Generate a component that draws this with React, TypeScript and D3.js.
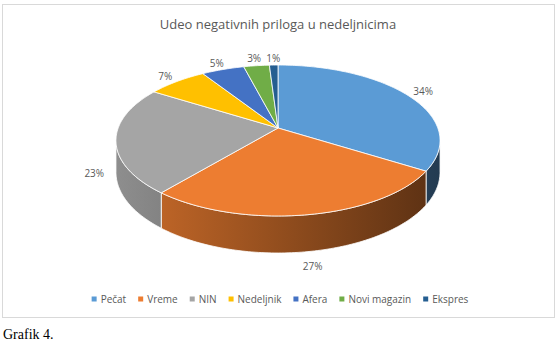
import React, { useEffect, useRef } from "react";
import * as d3 from "d3";

const categories = ["Pečat", "Vreme", "NIN", "Nedeljnik", "Afera", "Novi magazin", "Ekspres"];
const values = [34, 27, 23, 7, 5, 3, 1];
const colors = ["#5B9BD5", "#ED7D31", "#A5A5A5", "#FFC000", "#4472C4", "#70AD47", "#255E91"];
const labels = ["34%", "27%", "23%", "7%", "5%", "3%", "1%"];
const titleText = "Udeo negativnih priloga u nedeljnicima";
const captionText = "Grafik 4.";

const WIDTH = 560;
const HEIGHT = 343;

export default function App() {
  const ref = useRef<SVGSVGElement | null>(null);

  useEffect(() => {
    const svg = d3.select(ref.current);
    svg.selectAll("*").remove();

    const font = "'Open Sans', 'Noto Sans', sans-serif";
    const textColor = "#595959";

    // frame
    svg.append("rect").attr("width", WIDTH).attr("height", HEIGHT).attr("fill", "#fff");
    svg.append("rect")
      .attr("x", 2.5).attr("y", 4.5).attr("width", 552).attr("height", 313)
      .attr("fill", "#fff").attr("stroke", "#D9D9D9").attr("stroke-width", 1);

    // title
    svg.append("text")
      .attr("x", 278).attr("y", 24).attr("dy", "0.35em")
      .attr("text-anchor", "middle")
      .attr("font-family", font).attr("font-size", 13)
      .attr("fill", textColor)
      .text(titleText);

    // 3D pie geometry (perspective projection of a disk)
    const cx = 278, cy = 128, a = 159.8, b = 73.4, p = 0.1656, depth = 30.9;
    const proj = (t: number, r: number, z: number): [number, number] => {
      const u = r * Math.sin(t), v = -r * Math.cos(t), w = 1 - p * v;
      return [cx + (a * u) / w, cy + (b * v + z * depth) / w];
    };
    const rimPoints = (t0: number, t1: number, z: number) => {
      const n = Math.max(2, Math.ceil(((t1 - t0) / (Math.PI * 2)) * 360));
      return d3.range(n + 1).map((i) => proj(t0 + ((t1 - t0) * i) / n, 1, z));
    };

    const arcs = d3.pie<number>().sort(null).value((d) => d)(values);
    const color = d3.scaleOrdinal<string, string>().domain(categories).range(colors);
    const line = d3.line();

    const defs = svg.append("defs");
    const xLeft = cx - a * 1.014, xRight = cx + a * 1.014;
    categories.forEach((c, i) => {
      const base = d3.rgb(color(c));
      const g = defs.append("linearGradient")
        .attr("id", `side${i}`).attr("gradientUnits", "userSpaceOnUse")
        .attr("x1", xLeft).attr("x2", xRight).attr("y1", 0).attr("y2", 0);
      const sc = (k: number) => d3.rgb(base.r * k, base.g * k, base.b * k).formatHex();
      g.append("stop").attr("offset", 0).attr("stop-color", sc(0.86));
      g.append("stop").attr("offset", 0.5).attr("stop-color", sc(0.62));
      g.append("stop").attr("offset", 1).attr("stop-color", sc(0.38));
    });

    const tL = Math.PI / 2 + Math.asin(p);
    const tR = (3 * Math.PI) / 2 - Math.asin(p);

    const pie = svg.append("g");
    // sides
    arcs.forEach((d, i) => {
      const s = Math.max(d.startAngle, tL), e = Math.min(d.endAngle, tR);
      if (s >= e) return;
      const pts = rimPoints(s, e, 0).concat(rimPoints(s, e, 1).reverse());
      pie.append("path")
        .attr("d", line(pts) + "Z")
        .attr("fill", `url(#side${i})`)
        .attr("stroke", "#fff").attr("stroke-width", 0.8).attr("stroke-linejoin", "round");
    });
    // tops
    arcs.forEach((d, i) => {
      const pts = [proj(0, 0, 0) as [number, number]].concat(rimPoints(d.startAngle, d.endAngle, 0));
      pie.append("path")
        .attr("d", line(pts) + "Z")
        .attr("fill", color(categories[i]))
        .attr("stroke", "#fff").attr("stroke-width", 0.8).attr("stroke-linejoin", "round");
    });

    // data labels
    arcs.forEach((d, i) => {
      const mid = (d.startAngle + d.endAngle) / 2;
      const front = -Math.cos(mid) > 0 ? 1 : 0;
      const [x, y] = proj(mid, 1.13, front);
      svg.append("text")
        .attr("x", x).attr("y", y).attr("dy", "0.35em")
        .attr("text-anchor", "middle")
        .attr("font-family", font).attr("font-size", 10)
        .attr("fill", textColor)
        .text(labels[i]);
    });

    // legend
    const legend = svg.append("g");
    const items = categories.map((c) => {
      const g = legend.append("g");
      g.append("rect").attr("x", 0).attr("y", -2.5).attr("width", 5).attr("height", 5).attr("fill", color(c));
      const t = g.append("text")
        .attr("x", 9).attr("dy", "0.35em")
        .attr("font-family", font).attr("font-size", 10)
        .attr("fill", textColor)
        .text(c);
      const w = (t.node() as SVGTextElement).getComputedTextLength();
      return { g, w: 9 + w };
    });
    const gap = 12;
    const total = d3.sum(items, (d) => d.w) + gap * (items.length - 1);
    let x0 = 280 - total / 2;
    items.forEach((it) => {
      it.g.attr("transform", `translate(${x0},299)`);
      x0 += it.w + gap;
    });

    // caption
    svg.append("text")
      .attr("x", 3).attr("y", 339)
      .attr("font-family", "'Liberation Serif', 'Times New Roman', serif")
      .attr("font-size", 14)
      .attr("fill", "#000")
      .text(captionText);
  }, []);

  return (
    <svg
      ref={ref}
      width={WIDTH}
      height={HEIGHT}
      style={{ position: "absolute", left: 0, top: 0, display: "block" }}
    />
  );
}
